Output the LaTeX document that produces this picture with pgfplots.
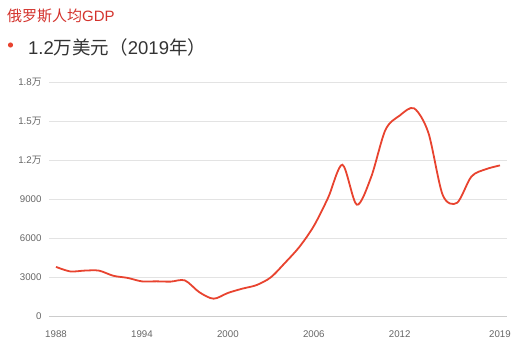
\documentclass[border=0pt]{standalone}
\usepackage{pgfplots}
\pgfplotsset{compat=1.18}
\usepackage{fontspec}
\setmainfont{Liberation Sans}
\newfontfamily\cjk{Noto Sans CJK SC}
\definecolor{linered}{HTML}{E8432F}
\definecolor{titlered}{HTML}{D3322C}
\definecolor{gridgray}{HTML}{E3E3E3}
\definecolor{axisgray}{HTML}{CCCCCC}
\definecolor{ticktext}{HTML}{666666}
\definecolor{maintext}{HTML}{333333}
\begin{document}
\begin{tikzpicture}[x=1pt,y=1pt]
\useasboundingbox (0,0) rectangle (525,359);
\node[anchor=west,inner sep=0,text=titlered,font=\fontsize{15}{17}\selectfont] at (7,343) {{\cjk 俄罗斯人均}GDP};
\fill[linered] (10.5,314) circle (2.6);
\node[anchor=west,inner sep=0,text=maintext,font=\fontsize{18.5}{21}\selectfont] at (28,312) {1.2{\cjk 万美元（}2019{\cjk 年）}};
\begin{axis}[
  at={(49pt,43pt)}, anchor=south west,
  width=458pt, height=234pt, scale only axis,
  xmin=1987.51, xmax=2019.49,
  ymin=0, ymax=18000,
  scaled y ticks=false,
  axis line style={draw=none},
  ytick={0,3000,6000,9000,12000,15000,18000},
  yticklabels={0,3000,6000,9000,1.2{\cjk 万},1.5{\cjk 万},1.8{\cjk 万}},
  xtick={1988,1994,2000,2006,2012,2019},
  xticklabels={1988,1994,2000,2006,2012,2019},
  ymajorgrids, grid style={gridgray, line width=0.8pt},
  major tick length=0pt,
  tick label style={text=ticktext, font=\fontsize{9.7}{11}\selectfont},
  yticklabel style={xshift=-4pt},
  xticklabel style={yshift=-11pt},
  clip=false,
]
\draw[axisgray, line width=0.9pt] (axis cs:1987.51,0) -- (axis cs:2019.49,0);
\addplot[linered, line width=1.8pt, smooth, tension=0.5, mark=none] coordinates {
(1988,3777) (1989,3428) (1990,3493) (1991,3490) (1992,3095) (1993,2930)
(1994,2663) (1995,2666) (1996,2644) (1997,2737) (1998,1835) (1999,1331)
(2000,1772) (2001,2101) (2002,2378) (2003,2976) (2004,4102) (2005,5324)
(2006,6920) (2007,9101) (2008,11635) (2009,8563) (2010,10675) (2011,14312)
(2012,15421) (2013,15974) (2014,14096) (2015,9313) (2016,8705) (2017,10720)
(2018,11287) (2019,11585)
};
\end{axis}
\end{tikzpicture}
\end{document}
